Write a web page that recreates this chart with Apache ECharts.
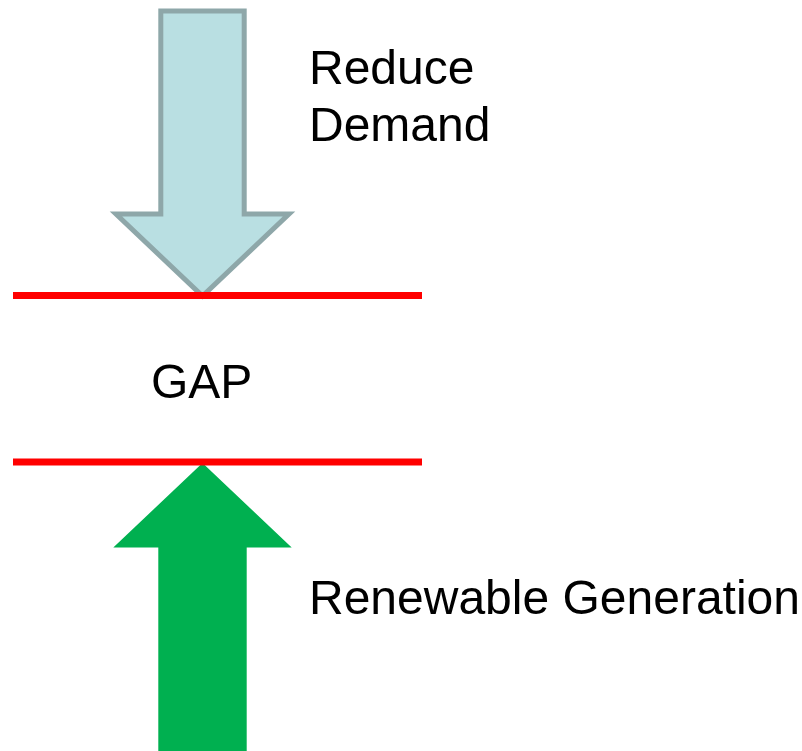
<!DOCTYPE html>
<html>
<head>
<meta charset="utf-8">
<script src="https://cdn.jsdelivr.net/npm/echarts@6/dist/echarts.min.js"></script>
<style>
html,body{margin:0;padding:0;background:#fff;}
#chart{width:802px;height:751px;}
</style>
</head>
<body>
<div id="chart"></div>
<script>
// Diagram values (in axis units = page pixels)
const arrowNames = ['Reduce Demand', 'Renewable Generation'];
const arrowCenterX = [202.5, 202.5];
const arrowTail = [11, 760];
const arrowTip = [296, 463];
const gapLevels = [295.5, 462];
const gapExtent = [13, 422];
const textLabels = ['Reduce', 'Demand', 'GAP', 'Renewable Generation'];
const textX = [309, 309, 151, 309];
const textY = [71, 128, 384.5, 600.3];

const arrowStyles = [
  { fill: '#b9dfe2', stroke: '#8ea7a9', lineWidth: 5, shaftHalf: 41.7, headHalf: 86.5, headLen: 82 },
  { fill: '#00b050', stroke: null, lineWidth: 0, shaftHalf: 44.2, headHalf: 89.2, headLen: 84.5 }
];

const arrowData = arrowNames.map((n, i) => ({ name: n, value: [arrowCenterX[i], arrowTail[i], arrowTip[i], i] }));
const textData = textLabels.map((t, i) => ({ name: t, value: [textX[i], textY[i]] }));

const chart = echarts.init(document.getElementById('chart'), null, { renderer: 'canvas' });

const series = [
  {
    type: 'custom',
    name: 'arrows',
    z: 2,
    data: arrowData,
    renderItem: function (params, api) {
      const cx = api.value(0), tail = api.value(1), tip = api.value(2), si = api.value(3);
      const s = arrowStyles[si];
      const sign = tip > tail ? 1 : -1;
      const hb = tip - sign * s.headLen;
      const pts = [
        [cx - s.shaftHalf, tail], [cx + s.shaftHalf, tail], [cx + s.shaftHalf, hb],
        [cx + s.headHalf, hb], [cx, tip], [cx - s.headHalf, hb], [cx - s.shaftHalf, hb]
      ].map(p => api.coord(p));
      return {
        type: 'polygon',
        shape: { points: pts },
        style: {
          fill: s.fill,
          stroke: s.stroke || 'none',
          lineWidth: s.lineWidth,
          lineJoin: 'miter'
        }
      };
    }
  }
];

gapLevels.forEach((lv, i) => {
  series.push({
    type: 'line',
    name: 'gap' + i,
    z: 3,
    showSymbol: false,
    symbol: 'none',
    data: [[gapExtent[0], lv], [gapExtent[1], lv]],
    lineStyle: { color: '#ff0000', width: 7, cap: 'butt' }
  });
});

series.push({
  type: 'custom',
  name: 'labels',
  z: 4,
  data: textData,
  renderItem: function (params, api) {
    const p = api.coord([api.value(0), api.value(1)]);
    return {
      type: 'text',
      x: p[0],
      y: p[1],
      style: {
        text: textLabels[params.dataIndex],
        fill: '#000000',
        font: '48px "Liberation Sans", Arial, sans-serif',
        align: 'left',
        verticalAlign: 'middle'
      }
    };
  }
});

chart.setOption({
  animation: false,
  backgroundColor: '#ffffff',
  grid: { left: 0, right: 0, top: 0, bottom: 0, containLabel: false },
  xAxis: { type: 'value', min: 0, max: 802, show: false },
  yAxis: { type: 'value', min: 0, max: 751, inverse: true, show: false },
  tooltip: { show: false },
  series: series
});
</script>
</body>
</html>
